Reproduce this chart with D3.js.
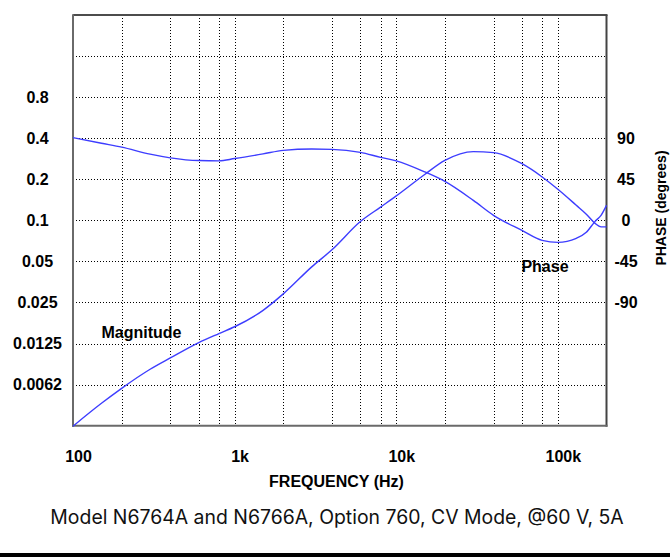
<!DOCTYPE html>
<html>
<head>
<meta charset="utf-8">
<script src="https://cdn.jsdelivr.net/npm/d3@7"></script>
<style>
  body { margin: 0; background: #fff; }
</style>
</head>
<body>
<div id="chart"></div>
<script>
// frequency points (Hz) and the two traces
var freqs = [100, 150, 200, 300, 400, 600, 800, 1000, 1500, 2000, 3000, 4000, 6000, 8000,
  10000, 15000, 20000, 30000, 40000, 60000, 80000, 100000, 130000, 150000, 170000, 185000, 200000];
var magnitude = [0.0031, 0.00456, 0.00587, 0.0081, 0.0098, 0.0127, 0.0148, 0.0166, 0.0219, 0.0289,
  0.0456, 0.0608, 0.098, 0.125, 0.151, 0.217, 0.275, 0.319, 0.3135, 0.260, 0.208, 0.169, 0.129,
  0.111, 0.095, 0.0896, 0.0896];
var phase = [90.6, 84.5, 80.3, 72.5, 68.5, 65.5, 65.2, 67.7, 72.8, 76.7, 78.1, 77.8, 74.5, 69.0,
  65.2, 53.1, 42.7, 21.9, 5.5, -11.0, -21.9, -24.1, -19.7, -13.1, -1.1, 5.5, 16.4];

var freqGrid = [200, 400, 600, 800, 1000, 2000, 4000, 6000, 8000, 10000, 20000, 40000, 60000, 80000, 100000];
var freqTicks = [100, 1000, 10000, 100000];
var freqLabels = ["100", "1k", "10k", "100k"];
var magGrid = [1.6, 0.8, 0.4, 0.2, 0.1, 0.05, 0.025, 0.0125, 0.00625];
var magTicks = [0.8, 0.4, 0.2, 0.1, 0.05, 0.025, 0.0125, 0.00625];
var magLabels = ["0.8", "0.4", "0.2", "0.1", "0.05", "0.025", "0.0125", "0.0062"];
var phaseTicks = [90, 45, 0, -45, -90];
var phaseLabels = ["90", "45", "0", "-45", "-90"];

function drawChart() {
  "use strict";
  var width = 670;
  var height = 560;
  var left = 73, right = 606.5, top = 15, bottom = 425.7;
  var boldFont = "'Liberation Sans', Arial, sans-serif";
  var lineColor = "#3d3dff";

  var svg = d3.select("#chart").append("svg").
    attr("width", width).
    attr("height", height);

  var x = d3.scaleLog().domain([100, 200000]).range([left, right]);
  var yMag = d3.scaleLog().base(2).domain([0.003125, 3.2]).range([bottom, top]);
  var yPhase = d3.scaleLinear().domain([-225, 225]).range([bottom, top]);

  // dotted grid, snapped to pixels so the dots stay dark
  var grid = svg.append("g").
    attr("stroke", "#000").
    attr("stroke-width", 1).
    attr("stroke-dasharray", "1,2").
    attr("shape-rendering", "crispEdges");

  grid.selectAll(".vgrid").data(freqGrid).enter().append("line").
    attr("x1", function(d) { return Math.round(x(d)) + 0.5; }).
    attr("x2", function(d) { return Math.round(x(d)) + 0.5; }).
    attr("y1", top + 3).
    attr("y2", bottom - 2);

  grid.selectAll(".hgrid").data(magGrid).enter().append("line").
    attr("x1", left + 3).
    attr("x2", right - 2).
    attr("y1", function(d) { return Math.round(yMag(d)) + 0.5; }).
    attr("y2", function(d) { return Math.round(yMag(d)) + 0.5; });

  // frame
  svg.append("line").attr("x1", left).attr("x2", right + 1).attr("y1", top).attr("y2", top).
    attr("stroke", "#111").attr("stroke-width", 1.5);
  svg.append("line").attr("x1", right).attr("x2", right).attr("y1", top).attr("y2", bottom + 1).
    attr("stroke", "#444").attr("stroke-width", 2);
  svg.append("line").attr("x1", left).attr("x2", left).attr("y1", top - 0.75).attr("y2", bottom + 1).
    attr("stroke", "#6a6a6a").attr("stroke-width", 2);
  svg.append("line").attr("x1", left - 1).attr("x2", right + 1).attr("y1", bottom).attr("y2", bottom).
    attr("stroke", "#6a6a6a").attr("stroke-width", 2);

  // traces
  var magData = freqs.map(function(f, i) { return [f, magnitude[i]]; });
  var phaseData = freqs.map(function(f, i) { return [f, phase[i]]; });

  var magLine = d3.line().
    x(function(d) { return x(d[0]); }).
    y(function(d) { return yMag(d[1]); }).
    curve(d3.curveMonotoneX);
  var phaseLine = d3.line().
    x(function(d) { return x(d[0]); }).
    y(function(d) { return yPhase(d[1]); }).
    curve(d3.curveMonotoneX);

  svg.append("path").datum(magData).
    attr("d", magLine).
    attr("fill", "none").
    attr("stroke", lineColor).
    attr("stroke-width", 1.4);
  svg.append("path").datum(phaseData).
    attr("d", phaseLine).
    attr("fill", "none").
    attr("stroke", lineColor).
    attr("stroke-width", 1.4);

  // axes (labels only)
  var xAxis = d3.axisBottom(x).
    tickValues(freqTicks).
    tickFormat(function(d, i) { return freqLabels[i]; }).
    tickSize(0);
  var gx = svg.append("g").attr("transform", "translate(5," + bottom + ")").call(xAxis);

  var yAxis = d3.axisLeft(yMag).
    tickValues(magTicks).
    tickFormat(function(d, i) { return magLabels[i]; }).
    tickSize(0);
  var gy = svg.append("g").attr("transform", "translate(" + left + ",0)").call(yAxis);

  var pAxis = d3.axisRight(yPhase).
    tickValues(phaseTicks).
    tickFormat(function(d, i) { return phaseLabels[i]; }).
    tickSize(0);
  var gp = svg.append("g").attr("transform", "translate(" + right + ",0)").call(pAxis);

  [gx, gy, gp].forEach(function(g) {
    g.select(".domain").remove();
    g.selectAll("text").
      attr("font-family", boldFont).
      attr("font-weight", "bold").
      attr("font-size", 16).
      attr("fill", "#000");
  });
  gx.selectAll("text").attr("y", 36).attr("dy", "0").attr("text-anchor", "middle");
  gy.selectAll("text").attr("x", 37.5 - left).attr("text-anchor", "middle");
  gp.selectAll("text").attr("x", 626 - right).attr("text-anchor", "middle");

  // titles and annotations
  svg.append("text").
    attr("x", 336.5).
    attr("y", 487).
    attr("text-anchor", "middle").
    attr("font-family", boldFont).
    attr("font-weight", "bold").
    attr("font-size", 16).
    text("FREQUENCY (Hz)");

  svg.append("text").
    attr("transform", "translate(666,208) rotate(-90)").
    attr("text-anchor", "middle").
    attr("font-family", boldFont).
    attr("font-weight", "bold").
    attr("font-size", 14).
    text("PHASE (degrees)");

  svg.append("text").
    attr("x", 141.5).
    attr("y", 337.5).
    attr("text-anchor", "middle").
    attr("font-family", boldFont).
    attr("font-weight", "bold").
    attr("font-size", 16).
    text("Magnitude");

  svg.append("text").
    attr("x", 545).
    attr("y", 272).
    attr("text-anchor", "middle").
    attr("font-family", boldFont).
    attr("font-weight", "bold").
    attr("font-size", 16).
    text("Phase");

  var caption = svg.append("text").
    attr("x", 337).
    attr("y", 523.5).
    attr("text-anchor", "middle").
    attr("font-family", "Inter, 'Noto Sans', sans-serif").
    attr("font-size", 20).
    attr("fill", "#111").
    text("Model N6764A and N6766A, Option 760, CV Mode, @60 V, 5A");
  var capLen = caption.node().getComputedTextLength();
  caption.attr("font-size", 20 * 574 / capLen);

  svg.append("rect").
    attr("x", 0).
    attr("y", 553).
    attr("width", width).
    attr("height", 4).
    attr("fill", "#000");
}

drawChart();
</script>
</body>
</html>
